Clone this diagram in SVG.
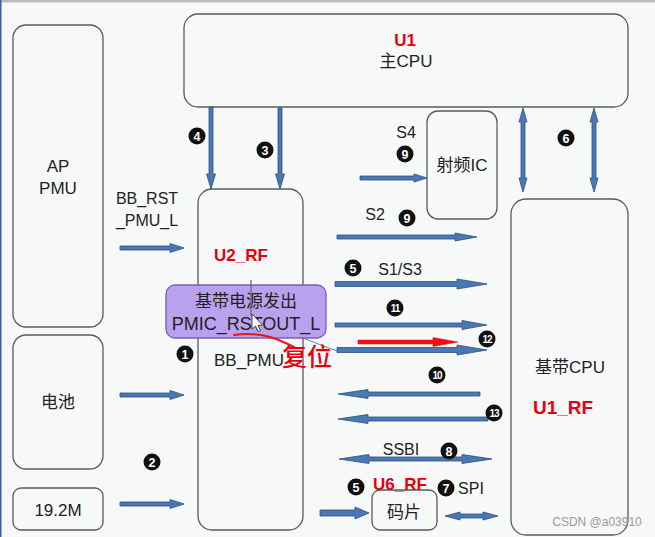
<svg xmlns="http://www.w3.org/2000/svg" width="655" height="537" viewBox="0 0 655 537">
<style>
.box{fill:none;stroke:#5a5a5a;stroke-width:1.3}
.t{font-family:"Liberation Sans","Noto Sans CJK SC",sans-serif;font-size:17px;fill:#222;text-anchor:middle}
.red{fill:#e8000b;font-weight:bold}
.arr{fill:#4a78b4;stroke:#2d4f7e;stroke-width:0.8;stroke-linejoin:round}
.badge circle{fill:#111}
.badge text{font-family:"Liberation Sans",sans-serif;font-weight:bold;font-size:12.5px;fill:#fff;text-anchor:middle}
.badge text.two{font-size:10px;letter-spacing:-1px}
</style>
<rect x="0" y="0" width="655" height="537" fill="#f7f8f8"/>
<rect x="0" y="0" width="655" height="2.5" fill="#b9bcbf"/>
<rect x="0" y="0" width="1.5" height="537" fill="#3b5f9a"/>

<g id="ap-pmu">
<rect class="box" x="13" y="25" width="90" height="302" rx="13"/>
<text class="t" x="58" y="172">AP</text>
<text class="t" x="58" y="194">PMU</text>
</g>
<g id="battery">
<rect class="box" x="13" y="335" width="90" height="134" rx="13"/>
<text class="t" x="58" y="408">电池</text>
</g>
<g id="osc">
<rect class="box" x="13" y="488" width="90" height="42" rx="8"/>
<text class="t" x="58" y="516">19.2M</text>
</g>
<g id="u1">
<rect class="box" x="184" y="14" width="444" height="93" rx="14"/>
<text class="t red" x="405" y="46">U1</text>
<text class="t" x="406" y="67">主CPU</text>
</g>
<g id="u2">
<rect class="box" x="198" y="189" width="105" height="341" rx="14"/>
<text class="t red" x="241" y="261">U2_RF</text>
<text class="t" x="249" y="366">BB_PMU</text>
</g>
<g id="rfic">
<rect class="box" x="427" y="111" width="70" height="108" rx="11"/>
<text class="t" x="462" y="171">射频IC</text>
</g>
<g id="bbcpu">
<rect class="box" x="511" y="199" width="117" height="336" rx="15"/>
<text class="t" x="570" y="373">基带CPU</text>
<text class="t red" x="563" y="414" style="font-size:19px">U1_RF</text>
</g>
<g id="chip">
<rect class="box" x="372" y="490" width="65" height="40" rx="8"/>
<text class="t" x="404" y="518">码片</text>
</g>

<g id="labels">
<text class="t" x="147" y="204" style="font-size:16px">BB_RST</text>
<text class="t" x="147" y="226" style="font-size:16px">_PMU_L</text>
<text class="t" x="406" y="138" style="font-size:16px">S4</text>
<text class="t" x="375" y="220" style="font-size:16px">S2</text>
<text class="t" x="400" y="275" style="font-size:16px">S1/S3</text>
<text class="t" x="401" y="455" style="font-size:16px">SSBI</text>
<text class="t red" x="400" y="490" style="font-size:17px">U6_RF</text>
<text class="t" x="471" y="494" style="font-size:16px">SPI</text>
</g>

<g id="connectors">
<path class="arr" d="M120,246 H170 V243.5 L184,248 L170,252.5 V250 H120 Z"/>
<path class="arr" d="M120,393 H170 V390.5 L184,395 L170,399.5 V397 H120 Z"/>
<path class="arr" d="M120,502 H170 V499.5 L184,504 L170,508.5 V506 H120 Z"/>
<path class="arr" d="M209,107 V174 H206.5 L211,189 L215.5,174 H213 V107 Z"/>
<path class="arr" d="M278,108 V174 H275.5 L280,189 L284.5,174 H282 V108 Z"/>
<path class="arr" d="M523,108 L527,122 H525 V178 H527 L523,192 L519,178 H521 V122 H519 Z"/>
<path class="arr" d="M594,108 L598,122 H596 V178 H598 L594,192 L590,178 H592 V122 H590 Z"/>
<path class="arr" d="M360,176 H414 V174 L427,178 L414,182 V180 H360 Z"/>
<path class="arr" d="M337,235 H455 V233 L477,237 L455,241 V239 H337 Z"/>
<path class="arr" d="M335,281.5 H457 V279 L487,284 L457,289 V286.5 H335 Z"/>
<path class="arr" d="M335,323 H462 V320.5 L487,325 L462,329.5 V327 H335 Z"/>
<path d="M358,340 H433 V337.5 L458,342 L433,346.5 V344 H358 Z" fill="#f21010" stroke="#e00" stroke-width="0.5"/>
<path class="arr" d="M337,347.5 H457 V345 L487,350 L457,355 V352.5 H337 Z"/>
<path class="arr" d="M480,392 H368 V389.5 L338,394 L368,398.5 V396 H480 Z"/>
<path class="arr" d="M488,417 H368 V414.5 L338,419 L368,423.5 V421 H488 Z"/>
<path class="arr" d="M339,459 L369,454.5 V457 H462 V454.5 L492,459 L462,463.5 V461 H369 V463.5 Z"/>
<path class="arr" d="M320,510 H355 V507 L369,513 L355,519 V516 H320 Z"/>
<path class="arr" d="M445,516 L460,512 V514 H483 V512 L498,516 L483,520 V518 H460 V520 Z"/>
</g>

<g id="badges">
<g class="badge"><circle cx="197" cy="136" r="8.5"/><text x="197" y="140.5">4</text></g>
<g class="badge"><circle cx="265" cy="150" r="8.5"/><text x="265" y="154.5">3</text></g>
<g class="badge"><circle cx="405" cy="154" r="8.5"/><text x="405" y="158.5">9</text></g>
<g class="badge"><circle cx="407" cy="218" r="8.5"/><text x="407" y="222.5">9</text></g>
<g class="badge"><circle cx="566" cy="138" r="8.5"/><text x="566" y="142.5">6</text></g>
<g class="badge"><circle cx="353" cy="268" r="8.5"/><text x="353" y="272.5">5</text></g>
<g class="badge"><circle cx="395" cy="308" r="8.5"/><text class="two" x="395" y="311.5">11</text></g>
<g class="badge"><circle cx="487" cy="339" r="8.5"/><text class="two" x="487" y="342.5">12</text></g>
<g class="badge"><circle cx="437" cy="375" r="8.5"/><text class="two" x="437" y="378.5">10</text></g>
<g class="badge"><circle cx="494" cy="413" r="8.5"/><text class="two" x="494" y="416.5">13</text></g>
<g class="badge"><circle cx="449" cy="451" r="8.5"/><text x="449" y="455.5">8</text></g>
<g class="badge"><circle cx="356" cy="487" r="8.5"/><text x="356" y="491.5">5</text></g>
<g class="badge"><circle cx="446" cy="488" r="8.5"/><text x="446" y="492.5">7</text></g>
<g class="badge"><circle cx="185" cy="354" r="8.5"/><text x="185" y="358.5">1</text></g>
<g class="badge"><circle cx="152" cy="462" r="8.5"/><text x="152" y="466.5">2</text></g>
</g>

<g id="callout">
<line x1="300" y1="337" x2="337" y2="351" stroke="#6b7fa3" stroke-width="1"/>
<rect x="166" y="285" width="160" height="53" rx="9" fill="#b9a1ee" stroke="#7a5cbf" stroke-width="1.3"/>
<text class="t" x="246" y="307">基带电源发出</text>
<text class="t" x="246" y="330" style="font-size:18px">PMIC_RSTOUT_L</text>
<line x1="251" y1="280" x2="251" y2="316" stroke="#666" stroke-width="1.2"/>
<path d="M252,314 V329 L255.5,326 L258,331.5 L260.5,330.5 L258,325.5 L262.5,325 Z" fill="#fff" stroke="#222" stroke-width="0.8"/>
<path d="M234,335 C246,333.5 258,334 268,336.5 C278,339 286,343 294,347" fill="none" stroke="#ee1111" stroke-width="2" stroke-linecap="round"/>
<text x="307" y="366" font-family="'Noto Sans CJK SC',sans-serif" font-size="25" font-weight="500" fill="#e8000b" text-anchor="middle">复位</text>
</g>

<text x="597" y="526" font-family="'Liberation Sans',sans-serif" font-size="12" fill="#9a9a9a" text-anchor="middle">CSDN @a03910</text>
</svg>
